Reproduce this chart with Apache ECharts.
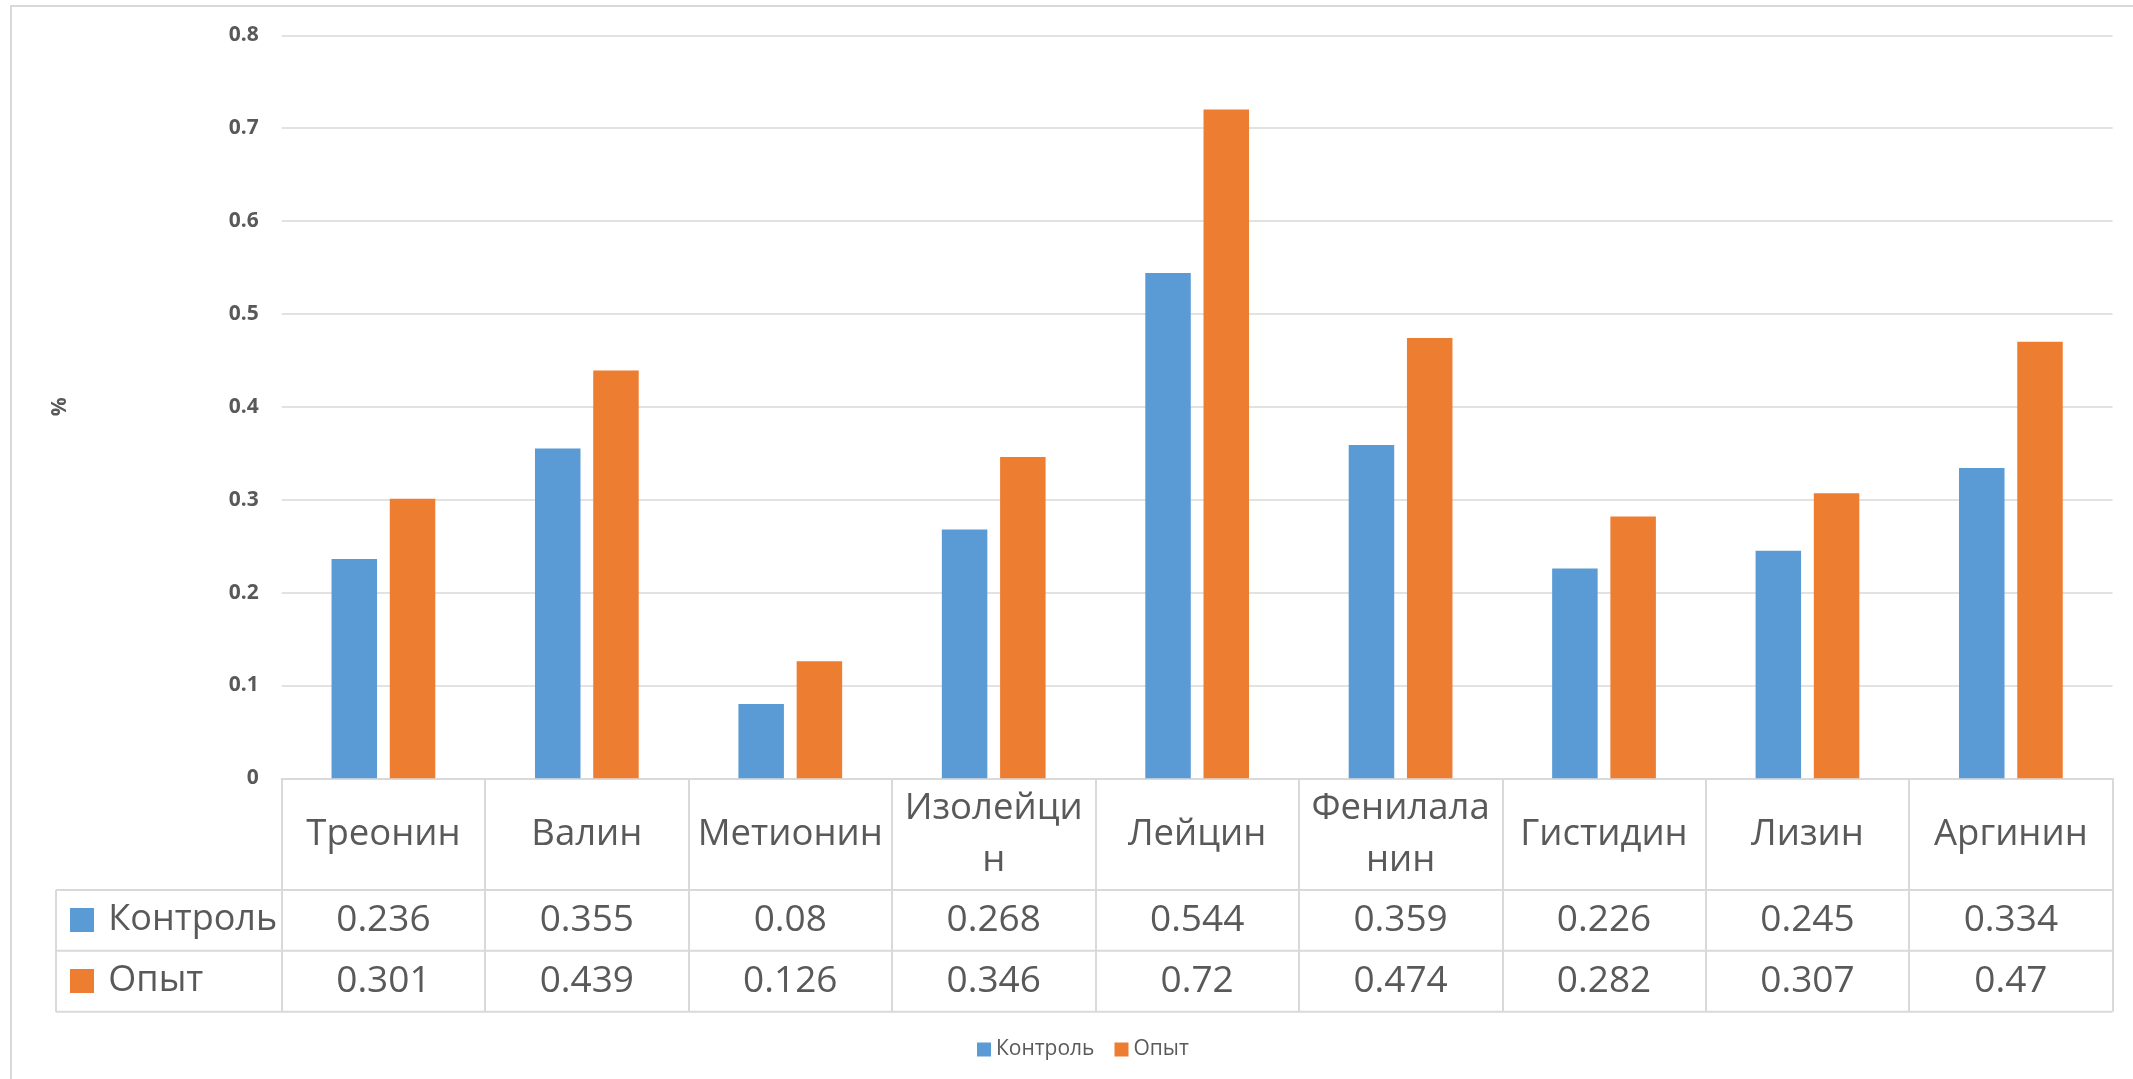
<!DOCTYPE html>
<html>
<head>
<meta charset="utf-8">
<script src="https://cdn.jsdelivr.net/npm/echarts@6/dist/echarts.min.js"></script>
<style>
html,body{margin:0;padding:0;background:#fff;}
#chart{width:2133px;height:1079px;}
</style>
</head>
<body>
<div id="chart"></div>
<script>
// ---- data ----
var categories = ['Треонин', 'Валин', 'Метионин', 'Изолейцин', 'Лейцин', 'Фенилаланин', 'Гистидин', 'Лизин', 'Аргинин'];
var headerLabels = ['Треонин', 'Валин', 'Метионин', 'Изолейци\nн', 'Лейцин', 'Фенилала\nнин', 'Гистидин', 'Лизин', 'Аргинин'];
var seriesNames = ['Контроль', 'Опыт'];
var control = [0.236, 0.355, 0.08, 0.268, 0.544, 0.359, 0.226, 0.245, 0.334];
var experiment = [0.301, 0.439, 0.126, 0.346, 0.72, 0.474, 0.282, 0.307, 0.47];
var yAxisName = '%';

// ---- layout ----
var W = 2133, H = 1079;
var gridLeft = 281.7, gridRight = 2112.6, gridTop = 35.3, gridBottom = 778.3;
var headerBottom = 890, row1Bottom = 950.7, row2Bottom = 1011.7;
var tableLeft = 56;
var lineColor = '#d9d9d9';
var textColor = '#595959';
var fontFamily = '"Open Sans", "Noto Sans", sans-serif';

var chart = echarts.init(document.getElementById('chart'), null, {renderer: 'canvas'});

function hline(y) {
  return {type: 'line', shape: {x1: tableLeft, y1: y, x2: gridRight, y2: y},
          style: {stroke: lineColor, lineWidth: 2}, silent: true};
}

var option = {
  backgroundColor: '#ffffff',
  animation: false,
  textStyle: {fontFamily: fontFamily},
  grid: {left: gridLeft, right: W - gridRight, top: gridTop, bottom: H - gridBottom, containLabel: false},
  legend: [
    {
      data: seriesNames,
      orient: 'vertical',
      left: 70,
      top: 901.5,
      padding: 0,
      itemWidth: 24,
      itemHeight: 24,
      itemGap: 24,
      icon: 'rect',
      selectedMode: false,
      formatter: function (n) { return ' ' + n; },
      textStyle: {fontSize: 36, lineHeight: 37, color: textColor, fontFamily: fontFamily}
    },
    {
      data: seriesNames,
      orient: 'horizontal',
      left: 977,
      top: 1039,
      padding: 0,
      itemWidth: 14,
      itemHeight: 14,
      itemGap: 20,
      icon: 'rect',
      selectedMode: false,
      textStyle: {fontSize: 21, lineHeight: 21, color: textColor, fontFamily: fontFamily}
    }
  ],
  xAxis: [
    {
      type: 'category',
      data: categories,
      position: 'bottom',
      axisLine: {show: true, lineStyle: {color: lineColor, width: 2}},
      axisTick: {show: true, length: row2Bottom - gridBottom, interval: 0, lineStyle: {color: lineColor, width: 2}},
      axisLabel: {
        interval: 0, margin: (headerBottom - gridBottom) / 2, verticalAlign: 'middle',
        fontSize: 36.5, lineHeight: 52, color: textColor, fontFamily: fontFamily,
        formatter: function (v, i) { return headerLabels[i]; }
      },
      splitLine: {show: false}
    },
    {
      type: 'category',
      data: categories,
      position: 'bottom',
      offset: 0,
      axisLine: {show: false},
      axisTick: {show: false},
      axisLabel: {
        interval: 0, margin: (headerBottom + row1Bottom) / 2 - gridBottom, verticalAlign: 'middle',
        fontSize: 37, color: textColor, fontFamily: fontFamily,
        formatter: function (v, i) { return String(control[i]); }
      },
      splitLine: {show: false}
    },
    {
      type: 'category',
      data: categories,
      position: 'bottom',
      offset: 0,
      axisLine: {show: false},
      axisTick: {show: false},
      axisLabel: {
        interval: 0, margin: (row1Bottom + row2Bottom) / 2 - gridBottom, verticalAlign: 'middle',
        fontSize: 37, color: textColor, fontFamily: fontFamily,
        formatter: function (v, i) { return String(experiment[i]); }
      },
      splitLine: {show: false}
    }
  ],
  yAxis: {
    type: 'value',
    min: 0,
    max: 0.8,
    interval: 0.1,
    name: yAxisName,
    nameLocation: 'middle',
    nameRotate: 90,
    nameGap: gridLeft - 71,
    nameTextStyle: {fontSize: 21, fontWeight: 'bold', color: textColor, fontFamily: fontFamily},
    axisLine: {show: false},
    axisTick: {show: false},
    axisLabel: {margin: 23, fontSize: 21, fontWeight: 'bold', color: textColor, fontFamily: fontFamily},
    splitLine: {show: true, lineStyle: {color: lineColor, width: 1.5}}
  },
  series: [
    {
      name: seriesNames[0],
      type: 'bar',
      xAxisIndex: 0,
      data: control,
      barWidth: 45.5,
      barGap: '28%',
      itemStyle: {color: '#5b9bd5'}
    },
    {
      name: seriesNames[1],
      type: 'bar',
      xAxisIndex: 0,
      data: experiment,
      barWidth: 45.5,
      barGap: '28%',
      itemStyle: {color: '#ed7d31'}
    }
  ],
  graphic: [
    {type: 'rect', shape: {x: 11, y: 6, width: 2200, height: 1200},
     style: {fill: 'none', stroke: lineColor, lineWidth: 2}, silent: true, z: -10},
    hline(headerBottom),
    hline(row1Bottom),
    hline(row2Bottom),
    {type: 'line', shape: {x1: tableLeft, y1: headerBottom, x2: tableLeft, y2: row2Bottom},
     style: {stroke: lineColor, lineWidth: 2}, silent: true}
  ]
};

chart.setOption(option);
</script>
</body>
</html>
